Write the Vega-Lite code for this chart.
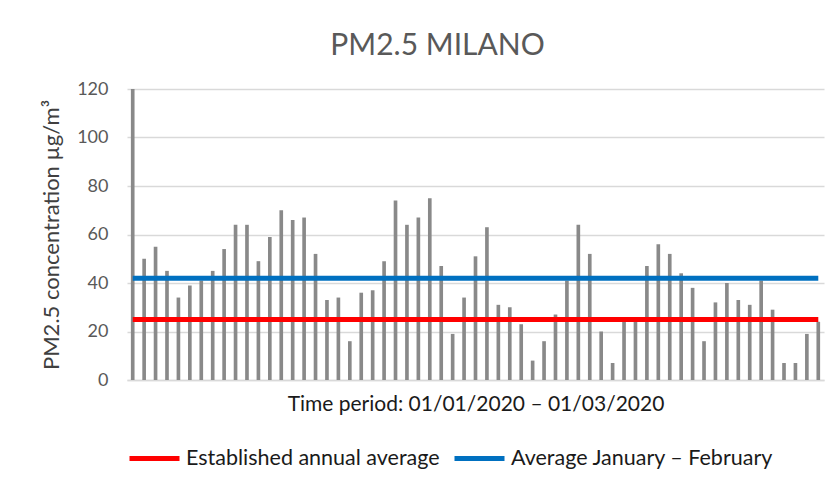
{
  "$schema": "https://vega.github.io/schema/vega-lite/v6.json",
  "width": 697,
  "height": 291,
  "autosize": {"type": "none"},
  "padding": {"left": 127, "top": 89, "right": 16, "bottom": 106},
  "background": "white",
  "title": {
    "text": "PM2.5 MILANO",
    "fontSize": 30,
    "font": "Lato",
    "fontWeight": "normal",
    "color": "#595959",
    "offset": 19,
    "dx": -38,
    "anchor": "middle"
  },
  "config": {
    "view": {"stroke": null},
    "font": "Lato",
    "axis": {"labelFont": "Lato", "titleFont": "Lato"},
    "legend": {"labelFont": "Lato"}
  },
  "datasets": {
    "pm": [
      {"day": 1, "value": 120}, {"day": 2, "value": 50}, {"day": 3, "value": 55}, {"day": 4, "value": 45},
      {"day": 5, "value": 34}, {"day": 6, "value": 39}, {"day": 7, "value": 41}, {"day": 8, "value": 45},
      {"day": 9, "value": 54}, {"day": 10, "value": 64}, {"day": 11, "value": 64}, {"day": 12, "value": 49},
      {"day": 13, "value": 59}, {"day": 14, "value": 70}, {"day": 15, "value": 66}, {"day": 16, "value": 67},
      {"day": 17, "value": 52}, {"day": 18, "value": 33}, {"day": 19, "value": 34}, {"day": 20, "value": 16},
      {"day": 21, "value": 36}, {"day": 22, "value": 37}, {"day": 23, "value": 49}, {"day": 24, "value": 74},
      {"day": 25, "value": 64}, {"day": 26, "value": 67}, {"day": 27, "value": 75}, {"day": 28, "value": 47},
      {"day": 29, "value": 19}, {"day": 30, "value": 34}, {"day": 31, "value": 51}, {"day": 32, "value": 63},
      {"day": 33, "value": 31}, {"day": 34, "value": 30}, {"day": 35, "value": 23}, {"day": 36, "value": 8},
      {"day": 37, "value": 16}, {"day": 38, "value": 27}, {"day": 39, "value": 41}, {"day": 40, "value": 64},
      {"day": 41, "value": 52}, {"day": 42, "value": 20}, {"day": 43, "value": 7}, {"day": 44, "value": 24},
      {"day": 45, "value": 24}, {"day": 46, "value": 47}, {"day": 47, "value": 56}, {"day": 48, "value": 52},
      {"day": 49, "value": 44}, {"day": 50, "value": 38}, {"day": 51, "value": 16}, {"day": 52, "value": 32},
      {"day": 53, "value": 40}, {"day": 54, "value": 33}, {"day": 55, "value": 31}, {"day": 56, "value": 41},
      {"day": 57, "value": 29}, {"day": 58, "value": 7}, {"day": 59, "value": 7}, {"day": 60, "value": 19},
      {"day": 61, "value": 24}
    ],
    "avg": [
      {"series": "Established annual average", "start": 1, "end": 61, "level": 25},
      {"series": "Average January – February", "start": 1, "end": 61, "level": 42}
    ]
  },
  "layer": [
    {
      "data": {"name": "pm"},
      "mark": {"type": "bar", "color": "#898989"},
      "encoding": {
        "x": {
          "field": "day",
          "type": "ordinal",
          "scale": {"paddingInner": 0.68, "paddingOuter": 0.34},
          "axis": {
            "labels": false,
            "ticks": false,
            "domain": true,
            "domainColor": "#d9d9d9",
            "domainWidth": 1.5,
            "title": "Time period: 01/01/2020 – 01/03/2020",
            "titleFontSize": 21,
            "titleFontWeight": "normal",
            "titleColor": "#1a1a1a",
            "titlePadding": 13
          }
        },
        "y": {
          "field": "value",
          "type": "quantitative",
          "scale": {"domain": [0, 120], "nice": false},
          "axis": {
            "values": [0, 20, 40, 60, 80, 100, 120],
            "domain": false,
            "ticks": false,
            "gridColor": "#d9d9d9",
            "gridWidth": 1.5,
            "labelFontSize": 18,
            "labelColor": "#595959",
            "labelPadding": 19,
            "title": "PM2.5 concentration µg/m³",
            "titleFontSize": 22,
            "titleFontWeight": "normal",
            "titleColor": "#404040",
            "titlePadding": 13
          }
        }
      }
    },
    {
      "data": {"name": "avg"},
      "mark": {"type": "rule", "strokeWidth": 5},
      "encoding": {
        "x": {"field": "start", "type": "ordinal"},
        "x2": {"field": "end"},
        "y": {"field": "level", "type": "quantitative"},
        "color": {
          "field": "series",
          "type": "nominal",
          "scale": {
            "domain": ["Established annual average", "Average January – February"],
            "range": ["#ff0000", "#0070c0"]
          },
          "legend": {
            "title": null,
            "orient": "bottom",
            "direction": "horizontal",
            "symbolType": "stroke",
            "symbolSize": 2500,
            "symbolStrokeWidth": 5,
            "labelFontSize": 21.5,
            "labelColor": "#1a1a1a",
            "labelOffset": 4,
            "columnPadding": 4,
            "offset": 17,
            "labelLimit": 400
          }
        }
      }
    }
  ]
}
